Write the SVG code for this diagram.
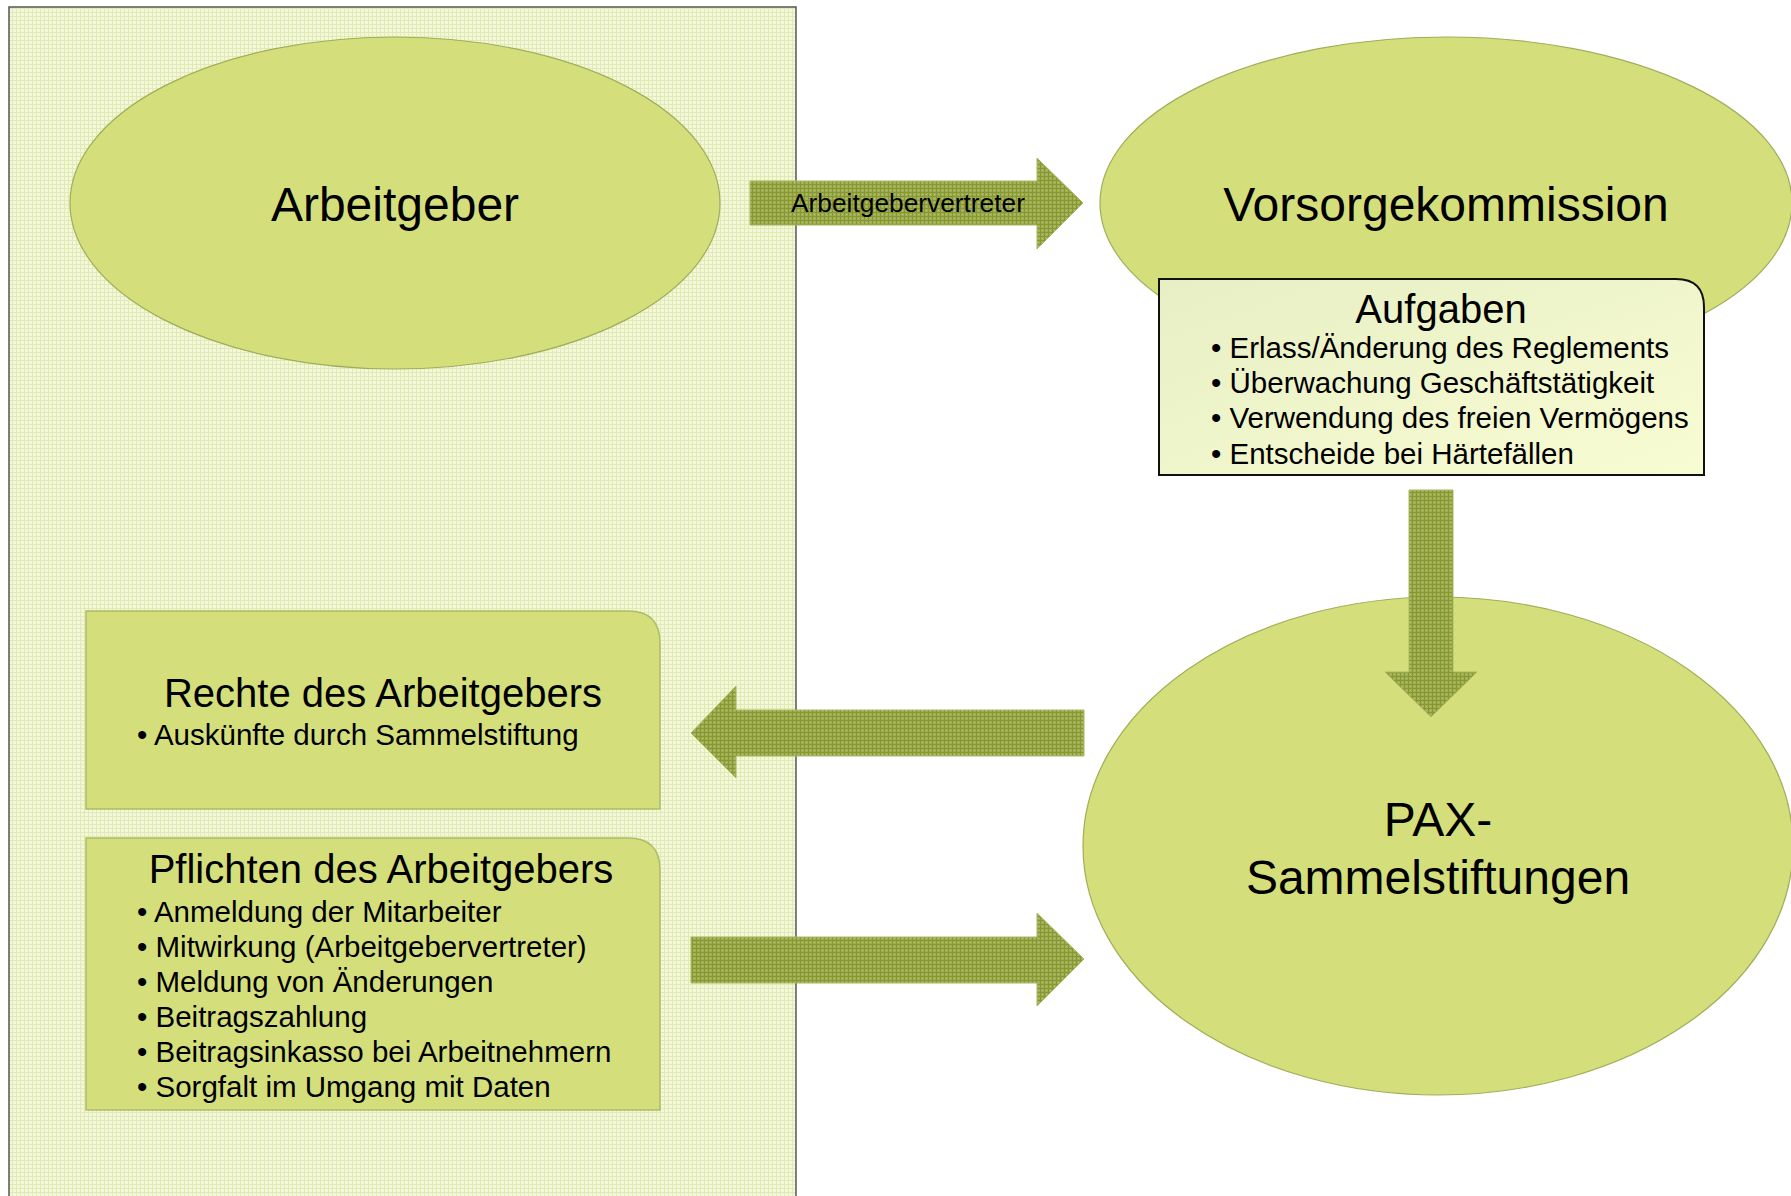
<svg xmlns="http://www.w3.org/2000/svg" width="1791" height="1196" viewBox="0 0 1791 1196">
<style>
text{font-family:"Liberation Sans",Arial,sans-serif;fill:#000}
.big{font-size:48px;text-anchor:middle}
.head{font-size:40px;text-anchor:middle}
.item{font-size:29.5px}
.lbl{font-size:26.3px;text-anchor:middle}
.ell{fill:#d4df7c;stroke:#9fae58;stroke-width:1.2}
.box{fill:#d4df7c;stroke:#aebc68;stroke-width:1.5}
.arrow{fill:url(#arrowPat);stroke:#a9b865;stroke-width:1}
</style>
<defs>
<pattern id="panelPat" width="4" height="4" patternUnits="userSpaceOnUse">
<rect width="4" height="4" fill="#f3f7db"/>
<rect width="4" height="1" fill="#e1eab3"/>
<rect width="1" height="4" fill="#e1eab3"/>
</pattern>
<pattern id="arrowPat" width="4" height="4" patternUnits="userSpaceOnUse">
<rect width="4" height="4" fill="#9fae52"/>
<rect width="4" height="1" fill="#879832"/>
<rect width="1" height="4" fill="#879832"/>
<rect x="2" y="2" width="1" height="1" fill="#b8c474"/>
</pattern>
<linearGradient id="aufGrad" x1="0" y1="0" x2="1" y2="1">
<stop offset="0" stop-color="#e8efc4"/>
<stop offset="1" stop-color="#f8fcd3"/>
</linearGradient>
</defs>

<g id="panel">
<path d="M9,1200 V7 H796 V1200" fill="url(#panelPat)" stroke="#555" stroke-width="1.5"/>
</g>

<g id="arbeitgeber">
<ellipse class="ell" cx="395" cy="203" rx="325" ry="166"/>
<text class="big" x="395" y="221">Arbeitgeber</text>
</g>

<g id="vorsorgekommission">
<ellipse class="ell" cx="1446" cy="203" rx="346" ry="166"/>
<text class="big" x="1446" y="221">Vorsorgekommission</text>
</g>

<g id="aufgaben">
<path d="M1159,279 H1676 Q1704,279 1704,307 V475 H1159 Z" fill="url(#aufGrad)" stroke="#111" stroke-width="2"/>
<text class="head" x="1441" y="323">Aufgaben</text>
<text class="item" x="1211" y="358">• Erlass/Änderung des Reglements</text>
<text class="item" x="1211" y="393">• Überwachung Geschäftstätigkeit</text>
<text class="item" x="1211" y="428">• Verwendung des freien Vermögens</text>
<text class="item" x="1211" y="464">• Entscheide bei Härtefällen</text>
</g>

<g id="pax">
<ellipse class="ell" cx="1438" cy="846" rx="355" ry="249"/>
<text class="big" x="1438" y="836">PAX-</text>
<text class="big" x="1438" y="894">Sammelstiftungen</text>
</g>

<g id="rechte">
<path d="M86,611 H628 Q660,611 660,643 V809 H86 Z" class="box"/>
<text class="head" x="383" y="707">Rechte des Arbeitgebers</text>
<text class="item" x="137" y="745">• Auskünfte durch Sammelstiftung</text>
</g>

<g id="pflichten">
<path d="M86,838 H628 Q660,838 660,870 V1110 H86 Z" class="box"/>
<text class="head" x="381" y="883">Pflichten des Arbeitgebers</text>
<text class="item" x="137" y="922">• Anmeldung der Mitarbeiter</text>
<text class="item" x="137" y="957">• Mitwirkung (Arbeitgebervertreter)</text>
<text class="item" x="137" y="992">• Meldung von Änderungen</text>
<text class="item" x="137" y="1027">• Beitragszahlung</text>
<text class="item" x="137" y="1062">• Beitragsinkasso bei Arbeitnehmern</text>
<text class="item" x="137" y="1097">• Sorgfalt im Umgang mit Daten</text>
</g>

<g id="connectors">
<path class="arrow" d="M750,181 H1037 V158 L1083,203 L1037,249 V225 H750 Z"/>
<text class="lbl" x="908" y="212">Arbeitgebervertreter</text>
<path class="arrow" d="M1409,490 H1453 V672 H1477 L1431,717 L1385,672 H1409 Z"/>
<path class="arrow" d="M1084,710 H736 V686 L691,733 L736,778 V756 H1084 Z"/>
<path class="arrow" d="M691,937 H1037 V913 L1084,959 L1037,1006 V983 H691 Z"/>
</g>
</svg>
